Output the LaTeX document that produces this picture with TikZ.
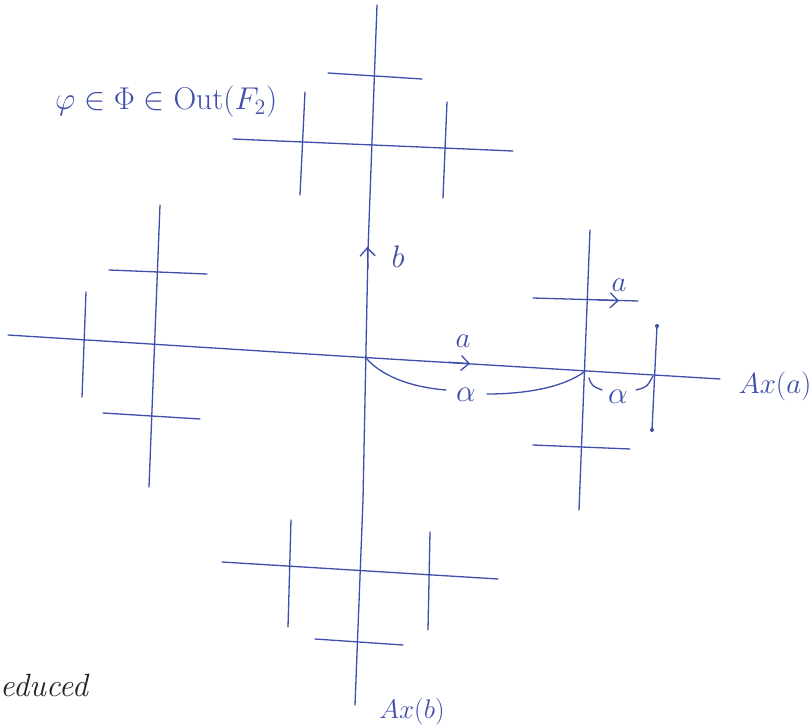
\documentclass[tikz,border=0pt]{standalone}
\usepackage{graphicx}
\usetikzlibrary{arrows.meta}
\definecolor{ink}{RGB}{62,78,170}
\definecolor{pencil}{RGB}{35,35,35}
\newcommand{\hwlabel}[2][1.4]{\scalebox{#1}{\huge #2}}
\tikzset{
  inkline/.style={draw=ink, line width=1.3pt, line cap=round},
  lbl/.style={text=ink, inner sep=0pt},
  arrowmark/.style={inkline, -{Straight Barb[length=8pt,width=15pt,line width=1.3pt]}},
  inkdot/.style={fill=ink, circle, inner sep=0pt, minimum size=4pt},
}
\begin{document}
\begin{tikzpicture}[x=1pt,y=-1pt]
\fill[white] (0,0) rectangle (812,728);
\useasboundingbox (0,0) rectangle (812,728);

% main axes
\coordinate (bTop) at (377,5);
\coordinate (bMid1) at (368,250);
\coordinate (bMid2) at (363,500);
\coordinate (bBot) at (355,705);
\coordinate (aL) at (8,335);
\coordinate (aMid) at (340,356);
\coordinate (aR) at (720,379);
\coordinate (O) at (366,358);
\coordinate (P) at (584,372);
\coordinate (Q) at (653,376);
\draw[inkline] (bTop) -- (bMid1) -- (bMid2) -- (bBot);
\draw[inkline] (aL) -- (aMid) -- (aR);

% top cluster
\draw[inkline] (328,73) -- (422,79);
\draw[inkline] (233,139) -- (513,151);
\draw[inkline] (305,92) -- (300,195);
\draw[inkline] (447,102) -- (443,198);

% left cluster
\draw[inkline] (160,205) -- (149,487);
\draw[inkline] (109,270) -- (207,274);
\draw[inkline] (103,413) -- (200,419);
\draw[inkline] (86,292) -- (82,397);

% right cluster
\draw[inkline] (590,230) -- (579,510);
\draw[inkline] (533,298) -- (638,301);
\draw[inkline] (533,445) -- (630,449);
\node[inkdot] (d1) at (657,326) {};
\node[inkdot] (d2) at (652,430) {};
\draw[inkline] (d1.center) -- (d2.center);

% bottom cluster
\draw[inkline] (222,562) -- (498,579);
\draw[inkline] (291,520) -- (288,627);
\draw[inkline] (430,532) -- (428,630);
\draw[inkline] (315,639) -- (403,645);

% arrows on edges
\draw[arrowmark] (368,268) -- (367.3,247);
\draw[arrowmark] (448,362.2) -- (470,363.6);
\draw[arrowmark] (598,300) -- (619,300.6);

% translation-length arcs
\draw[inkline] (O) .. controls (385,380) and (420,388) .. (446,390);
\draw[inkline] (487,394) .. controls (530,394) and (565,386) .. (P);
\draw[inkline] (589,378) .. controls (592,386) .. (602,390);
\draw[inkline] (636,390) .. controls (647,387) .. (Q);

% labels
\node[lbl] (la) at (463,341) {\hwlabel{$a$}};
\node[lbl] (lb) at (398,257) {\hwlabel[1.5]{$b$}};
\node[lbl] (la2) at (619,285) {\hwlabel{$a$}};
\node[lbl] (al1) at (466,395) {\hwlabel[1.5]{$\alpha$}};
\node[lbl] (al2) at (618,397) {\hwlabel[1.5]{$\alpha$}};
\node[lbl, anchor=west] (phi) at (55,102) {\hwlabel[1.52]{$\varphi\in\Phi\in\mathrm{Out}(F_2)$}};
\node[lbl] (axa) at (775,386) {\hwlabel[1.4]{$Ax(a)$}};
\node[lbl] (axb) at (412,712) {\hwlabel[1.3]{$Ax(b)$}};
\node[lbl, text=pencil, anchor=west] (red) at (0,686) {\hwlabel[1.55]{\itshape educed}};
\end{tikzpicture}
\end{document}
